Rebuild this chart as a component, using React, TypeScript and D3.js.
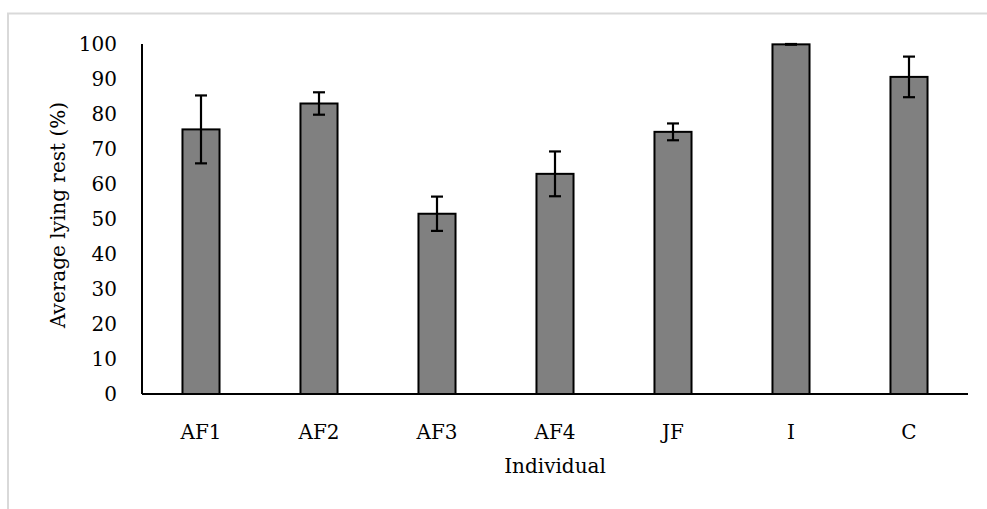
import React, { useEffect, useRef } from 'react';
import * as d3 from 'd3';

const categories = ['AF1', 'AF2', 'AF3', 'AF4', 'JF', 'I', 'C'];
const means = [75.6, 83.0, 51.5, 62.9, 74.9, 99.9, 90.6];
const errors = [9.7, 3.2, 4.9, 6.4, 2.4, 0.1, 5.8];
const yTicks = [0, 10, 20, 30, 40, 50, 60, 70, 80, 90, 100];

export default () => {
  const svgRef = useRef<SVGSVGElement>(null);

  useEffect(() => {
    if (!svgRef.current) {
      return;
    }
    const width = 987;
    const height = 509;
    const left = 142;
    const right = 968;
    const top = 44;
    const bottom = 394;
    const font = '"DejaVu Serif", serif';
    const fontSize = '20px';

    const svg = d3.select(svgRef.current)
      .attr('width', width)
      .attr('height', height);
    svg.selectAll('*').remove();

    // chart frame
    svg.append('rect')
      .attr('x', 8)
      .attr('y', 13.5)
      .attr('width', 1000)
      .attr('height', 520)
      .attr('fill', 'white')
      .attr('stroke', '#d9d9d9')
      .attr('stroke-width', 2);

    const x = d3.scaleBand<string>()
      .domain(categories)
      .range([left, right])
      .paddingInner(0.686)
      .paddingOuter(0.343);

    const y = d3.scaleLinear()
      .domain([0, 100])
      .range([bottom, top]);

    // y tick labels
    svg.append('g')
      .selectAll('text')
      .data(yTicks)
      .enter()
      .append('text')
      .attr('x', 117)
      .attr('y', (d) => y(d))
      .attr('dy', '0.36em')
      .attr('text-anchor', 'end')
      .style('font-family', font)
      .style('font-size', fontSize)
      .text((d) => d);

    // bars
    svg.append('g')
      .selectAll('rect')
      .data(means)
      .enter()
      .append('rect')
      .attr('x', (d, i) => x(categories[i]) as number)
      .attr('y', (d) => y(d))
      .attr('width', x.bandwidth())
      .attr('height', (d) => bottom - y(d))
      .attr('fill', '#808080')
      .attr('stroke', '#000')
      .attr('stroke-width', 2);

    // error bars
    const eb = svg.append('g')
      .attr('stroke', '#000')
      .attr('stroke-width', 2.2)
      .selectAll('g')
      .data(means)
      .enter()
      .append('g');
    const cx = (i: number) => (x(categories[i]) as number) + x.bandwidth() / 2;
    eb.append('line')
      .attr('x1', (d, i) => cx(i))
      .attr('x2', (d, i) => cx(i))
      .attr('y1', (d, i) => y(d + errors[i]))
      .attr('y2', (d, i) => y(d - errors[i]));
    eb.append('line')
      .attr('x1', (d, i) => cx(i) - 6)
      .attr('x2', (d, i) => cx(i) + 6)
      .attr('y1', (d, i) => y(d + errors[i]))
      .attr('y2', (d, i) => y(d + errors[i]));
    eb.append('line')
      .attr('x1', (d, i) => cx(i) - 6)
      .attr('x2', (d, i) => cx(i) + 6)
      .attr('y1', (d, i) => y(d - errors[i]))
      .attr('y2', (d, i) => y(d - errors[i]));

    // axes lines
    svg.append('line')
      .attr('x1', left)
      .attr('x2', left)
      .attr('y1', top)
      .attr('y2', bottom)
      .attr('stroke', '#000')
      .attr('stroke-width', 2);
    svg.append('line')
      .attr('x1', left)
      .attr('x2', right)
      .attr('y1', bottom)
      .attr('y2', bottom)
      .attr('stroke', '#000')
      .attr('stroke-width', 2);

    // x labels
    svg.append('g')
      .selectAll('text')
      .data(categories)
      .enter()
      .append('text')
      .attr('x', (d) => (x(d) as number) + x.bandwidth() / 2)
      .attr('y', 439)
      .attr('text-anchor', 'middle')
      .style('font-family', font)
      .style('font-size', fontSize)
      .text((d) => d);

    // axis titles
    svg.append('text')
      .attr('x', (left + right) / 2)
      .attr('y', 473)
      .attr('text-anchor', 'middle')
      .style('font-family', font)
      .style('font-size', fontSize)
      .text('Individual');

    svg.append('text')
      .attr('transform', 'translate(65, 215) rotate(-90)')
      .attr('text-anchor', 'middle')
      .style('font-family', font)
      .style('font-size', fontSize)
      .text('Average lying rest (%)');
  }, []);

  return (
    <svg ref={svgRef} style={{ position: 'absolute', left: 0, top: 0 }} />
  );
};
